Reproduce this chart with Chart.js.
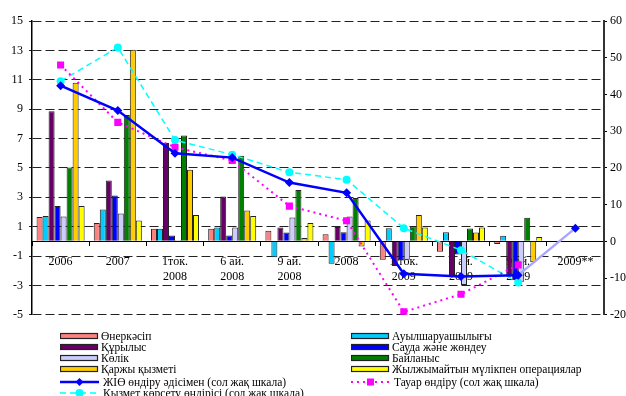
<!DOCTYPE html>
<html>
<head>
<meta charset="utf-8">
<script src="https://cdn.jsdelivr.net/npm/chart.js@4/dist/chart.umd.min.js"></script>
<style>
  html, body { margin: 0; padding: 0; background: #fff; }
  #wrap { position: relative; width: 626px; height: 396px; overflow: hidden; }
  #c { position: absolute; left: 0; top: 0; }
  #legend { position: absolute; left: 0; top: 0; width: 626px; height: 396px;
            font-family: "Liberation Serif", "Times New Roman", serif; font-size: 11.5px; color: #000; }
  .lg { position: absolute; height: 12px; line-height: 12px; white-space: nowrap; }
  .lg svg { position: absolute; left: 0; top: 0; }
  .lg span { position: absolute; top: 0; }
</style>
</head>
<body>
<div id="wrap">
  <canvas id="c" width="626" height="328"></canvas>
  <div id="legend"></div>
</div>
<script>
// Periods on the category axis (multi-line labels as arrays)
const categories = ['2006', '2007', ['1ток.', '2008'], ['6 ай.', '2008'], ['9 ай.', '2008'],
                    '2008', ['1 ток.', '2009'], ['6 ай.', '2009'], ['9 ай.', '2009'], '2009**'];

// Sector growth, % (right scale)
const industry      = [6.6, 5.0, 3.4, 3.4, 2.9, 1.9, -5.0, -2.8, -0.7, null];
const agriculture   = [6.9, 8.7, 3.4, 3.8, -4.3, -6.1, 3.6, 2.5, 1.5, null];
const construction  = [35.4, 16.6, 26.8, 12.2, 3.8, 3.9, -6.7, -9.8, -9.5, null];
const trade         = [9.6, 12.5, 1.6, 1.6, 2.4, 2.5, -5.2, -3.6, -10.6, null];
const transport     = [6.8, 7.6, 0.3, 3.8, 6.5, 6.8, -5.0, -11.9, -11.0, null];
const communication = [20.1, 34.4, 28.8, 23.3, 14.0, 11.8, 4.1, 3.5, 6.4, null];
const finance       = [43.2, 52.2, 19.5, 8.4, 0.9, -1.4, 7.2, 2.4, -5.7, null];
const realEstate    = [9.6, 5.7, 7.2, 6.9, 5.0, 5.7, 3.8, 3.8, 1.2, null];

// Growth by production method / goods / services, % (left scale)
const gdpGrowth      = [10.6, 8.9, 6.0, 5.7, 4.0, 3.3, -2.2, -2.4, -2.3, 0.9];
const goodsGrowth    = [12.0, 8.1, 6.4, 5.5, 2.4, 1.4, -4.8, -3.6, -1.6, null];
const servicesGrowth = [10.9, 13.2, 6.9, 5.9, 4.7, 4.2, 0.9, -0.6, -2.8, null];

// Axis tick values
const leftTicks  = [-5, -3, -1, 1, 3, 5, 7, 9, 11, 13, 15];
const rightTicks = [-20, -10, 0, 10, 20, 30, 40, 50, 60];

const barSeries = [
  { label: 'Өнеркәсіп', data: industry, color: '#FF8080' },
  { label: 'Ауылшаруашылығы', data: agriculture, color: '#00CCFF' },
  { label: 'Құрылыс', data: construction, color: '#660066' },
  { label: 'Сауда және жөндеу', data: trade, color: '#0000FF' },
  { label: 'Көлік', data: transport, color: '#CCCCFF' },
  { label: 'Байланыс', data: communication, color: '#008000' },
  { label: 'Қаржы қызметі', data: finance, color: '#FFCC00' },
  { label: ' Жылжымайтын мүлікпен операциялар', data: realEstate, color: '#FFFF00' }
];

const lineSeries = [
  { label: 'ЖІӨ өндіру әдісімен (сол жақ шкала)', data: gdpGrowth, color: '#0000FF',
    width: 2.5, dash: [], point: 'rectRot', radius: 4.5 },
  { label: 'Тауар өндіру (сол жақ шкала)', data: goodsGrowth, color: '#FF00FF',
    width: 2, dash: [2, 4], point: 'rect', radius: 5 },
  { label: 'Қызмет көрсету өндірісі (сол жақ шкала)', data: servicesGrowth, color: '#00FFFF',
    width: 1.5, dash: [6, 4], point: 'circle', radius: 4 }
];

const FONT = '"Liberation Serif", "Times New Roman", serif';
Chart.defaults.font.family = FONT;
Chart.defaults.font.size = 12;
Chart.defaults.color = '#000';

const datasets = [];
lineSeries.forEach((s, i) => {
  datasets.push({
    type: 'line', label: s.label, data: s.data, yAxisID: 'y', order: i,
    borderColor: s.color, backgroundColor: s.color, borderWidth: s.width, borderDash: s.dash,
    pointStyle: s.point, pointRadius: s.radius, pointBorderWidth: 0, pointBackgroundColor: s.color,
    tension: 0, spanGaps: false,
    segment: i === 0 ? {
      // the closing (estimated) segment is drawn in a lighter tone
      borderColor: ctx => ctx.p1DataIndex === categories.length - 1 ? '#A8A8FF' : undefined
    } : undefined
  });
});
barSeries.forEach(s => {
  datasets.push({
    type: 'bar', label: s.label, data: s.data, yAxisID: 'y1', order: 10,
    backgroundColor: s.color, borderColor: '#222', borderWidth: 1,
    categoryPercentage: 0.84, barPercentage: 1.0
  });
});

new Chart(document.getElementById('c'), {
  data: { labels: categories, datasets: datasets },
  options: {
    responsive: false, animation: false, devicePixelRatio: 1,
    layout: { padding: { top: 21, bottom: 7, left: 0, right: 0 } },
    plugins: { legend: { display: false }, tooltip: { enabled: false } },
    scales: {
      x: {
        type: 'category', position: { y: 0 },
        grid: { display: true, drawOnChartArea: false, drawTicks: true, tickLength: 4, color: '#000', offset: true },
        border: { display: true, color: '#000', width: 1 },
        ticks: { autoSkip: false, maxRotation: 0, padding: 9, font: { size: 12, lineHeight: 1.25 } }
      },
      y: {
        position: 'left', min: -5, max: 15,
        afterBuildTicks: s => { s.ticks = leftTicks.map(v => ({ value: v })); },
        afterFit: s => { s.width = 32; },
        grid: { color: '#222', lineWidth: 1, tickLength: 3 },
        border: { display: true, color: '#000', width: 1.5, dash: [9, 4] },
        ticks: { padding: 6, font: { size: 12 } }
      },
      y1: {
        position: 'right', min: -20, max: 60,
        afterBuildTicks: s => { s.ticks = rightTicks.map(v => ({ value: v })); },
        afterFit: s => { s.width = 22; },
        grid: { drawOnChartArea: false, color: '#000', tickLength: 3 },
        border: { display: true, color: '#333', width: 2 },
        ticks: { padding: 3, font: { size: 12 } }
      }
    }
  }
});

// Two-column legend, filled row by row
const legendItems = barSeries.map(s => ({ kind: 'bar', ...s }))
  .concat(lineSeries.map(s => ({ kind: 'line', ...s })));
const colX = [60, 351];
const rowY = [329.5, 340.5, 352, 363, 375.5, 387];
const legendEl = document.getElementById('legend');
legendItems.forEach((it, i) => {
  const col = i % 2, row = Math.floor(i / 2);
  const div = document.createElement('div');
  div.className = 'lg';
  div.style.left = colX[col] + 'px';
  div.style.top = rowY[row] + 'px';
  let svg;
  if (it.kind === 'bar') {
    svg = `<svg width="40" height="12"><rect x="0.5" y="3.5" width="37" height="5" fill="${it.color}" stroke="#222" stroke-width="1.2"/></svg>`;
  } else {
    const dash = it.dash.length ? `stroke-dasharray="${it.dash.join(' ')}"` : '';
    let mark;
    if (it.point === 'rect') mark = `<rect x="16" y="2.5" width="7" height="7" fill="${it.color}"/>`;
    else if (it.point === 'circle') mark = `<circle cx="19.5" cy="6" r="4" fill="${it.color}"/>`;
    else mark = `<polygon points="19.5,2 23.5,6 19.5,10 15.5,6" fill="${it.color}"/>`;
    svg = `<svg width="40" height="12"><line x1="0" y1="6" x2="39" y2="6" stroke="${it.color}" stroke-width="${it.width}" ${dash}/>${mark}</svg>`;
  }
  div.innerHTML = svg + `<span style="left:${it.kind === 'line' ? 43 : 41}px">${it.label}</span>`;
  legendEl.appendChild(div);
});
</script>
</body>
</html>
